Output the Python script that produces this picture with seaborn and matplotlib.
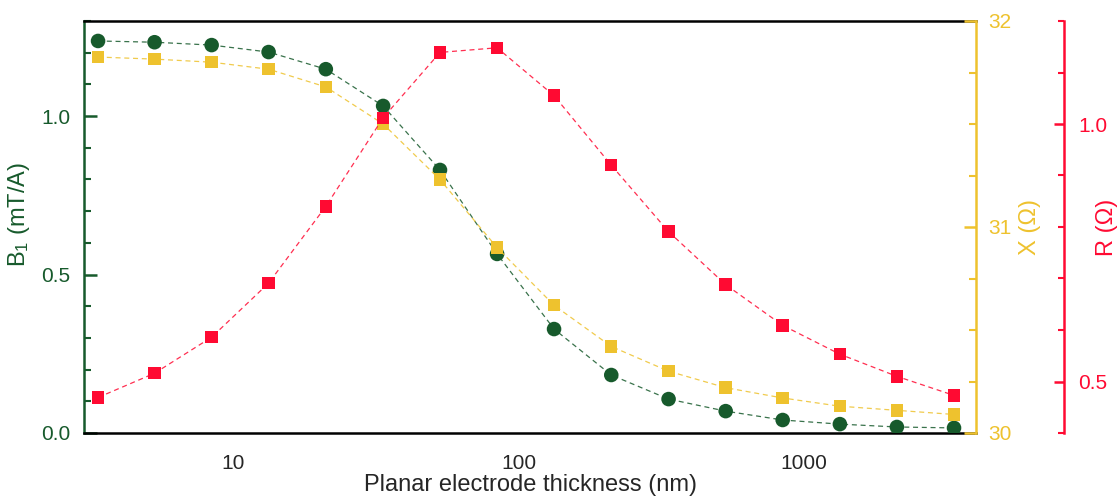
import numpy as np
import pandas as pd
import matplotlib
matplotlib.use("Agg")
import matplotlib.pyplot as plt
from matplotlib.ticker import MultipleLocator, FixedLocator, LogLocator, NullFormatter
import seaborn as sns

thickness = [3.36, 5.3, 8.4, 13.3, 21.1, 33.5, 53, 84, 133, 211, 335, 531, 841, 1334, 2113, 3350]
b1 = [1.237, 1.233, 1.224, 1.202, 1.148, 1.032, 0.830, 0.565, 0.328, 0.183, 0.107, 0.069, 0.041, 0.028, 0.019, 0.016]
x_react = [31.825, 31.815, 31.80, 31.766, 31.68, 31.50, 31.23, 30.90, 30.62, 30.42, 30.30, 30.22, 30.17, 30.13, 30.11, 30.09]
r_res = [0.469, 0.516, 0.586, 0.691, 0.840, 1.012, 1.139, 1.148, 1.055, 0.920, 0.791, 0.688, 0.609, 0.553, 0.510, 0.473]

df = pd.DataFrame({"t": thickness, "B1": b1, "X": x_react, "R": r_res})

green = "#175a2c"
yellow = "#eec22e"
red = "#ff0a32"

sns.set_style("white")
plt.rcParams["font.family"] = ["Liberation Sans", "DejaVu Sans"]
plt.rcParams["font.size"] = 15
plt.rcParams["mathtext.fontset"] = "custom"
plt.rcParams["mathtext.rm"] = "Liberation Sans"
plt.rcParams["mathtext.it"] = "Liberation Sans"

fig = plt.figure(figsize=(11.17, 4.97), dpi=100)
ax = fig.add_axes([84 / 1117, 1 - 433 / 497, (976 - 84) / 1117, (433 - 21) / 497])
ax2 = ax.twinx()
ax3 = ax.twinx()

dash = (0, (4, 3))
for a, col, c, m, s in [(ax, "B1", green, "o", 110), (ax2, "X", yellow, "s", 80), (ax3, "R", red, "s", 80)]:
    sns.lineplot(data=df, x="t", y=col, ax=a, color=c, linestyle=dash, linewidth=0.9, alpha=0.85)
    sns.scatterplot(data=df, x="t", y=col, ax=a, color=c, marker=m, s=s, edgecolor="none", zorder=3)

ax.set_xscale("log")
ax.set_xlim(3, 4000)
ax.set_ylim(0, 1.3)
ax2.set_ylim(30, 32)
ax3.set_ylim(0.4, 1.2)

# spines
lw = 1.8
for a in (ax, ax2, ax3):
    for sp in a.spines.values():
        sp.set_visible(False)
ax.spines["left"].set_visible(True)
ax.spines["left"].set_color(green)
ax.spines["bottom"].set_visible(True)
ax.spines["bottom"].set_color("black")
ax.spines["top"].set_visible(True)
ax.spines["top"].set_color("black")
ax2.spines["right"].set_visible(True)
ax2.spines["right"].set_color(yellow)
ax3.spines["right"].set_visible(True)
ax3.spines["right"].set_color(red)
ax3.spines["right"].set_position(("outward", 63.4))
for a in (ax, ax2, ax3):
    for sp in a.spines.values():
        sp.set_linewidth(lw)

# x axis
ax.xaxis.set_major_locator(FixedLocator([10, 100, 1000]))
ax.xaxis.set_minor_locator(LogLocator(base=10, subs=np.arange(2, 10)))
ax.xaxis.set_minor_formatter(NullFormatter())
ax.set_xticklabels(["10", "100", "1000"])
ax.tick_params(axis="x", which="major", direction="out", length=8, width=1.8, color="black", top=False, pad=7)
ax.tick_params(axis="x", which="minor", direction="out", length=4.5, width=1.5, color="black", top=False)
ax.set_xlabel("Planar electrode thickness (nm)", fontsize=17, labelpad=1)

# left axis
ax.set_yticks([0, 0.5, 1.0])
ax.yaxis.set_minor_locator(MultipleLocator(0.1))
ax.set_yticklabels(["0.0", "0.5", "1.0"])
ax.tick_params(axis="y", which="major", direction="in", length=9, width=1.8, color=green, labelcolor=green, left=True, pad=10)
ax.tick_params(axis="y", which="minor", direction="in", length=5, width=1.5, color=green, left=True)
ax.set_ylabel("B$_1$ (mT/A)", color=green, fontsize=17)
ax.yaxis.set_label_coords(-0.058, 0.53)

# X axis (yellow)
ax2.set_yticks([30, 31, 32])
ax2.yaxis.set_minor_locator(MultipleLocator(0.25))
ax2.tick_params(axis="y", which="major", direction="in", length=9, width=1.8, color=yellow, labelcolor=yellow, right=True, pad=9)
ax2.tick_params(axis="y", which="minor", direction="in", length=5, width=1.5, color=yellow, right=True)
ax2.set_ylabel("X (Ω)", color=yellow, fontsize=17)
ax2.yaxis.set_label_coords(1.048, 0.5)

# R axis (red)
ax3.set_yticks([0.5, 1.0])
ax3.yaxis.set_minor_locator(MultipleLocator(0.1))
ax3.tick_params(axis="y", which="major", direction="in", length=7, width=1.8, color=red, labelcolor=red, right=True, pad=10)
ax3.tick_params(axis="y", which="minor", direction="in", length=4, width=1.5, color=red, right=True)
ax3.set_ylabel("R (Ω)", color=red, fontsize=17)
ax3.yaxis.set_label_coords(1.135, 0.5)

for a in (ax, ax2, ax3):
    a.grid(False)
    a.patch.set_visible(False)

fig.savefig("out.png", dpi=100)
